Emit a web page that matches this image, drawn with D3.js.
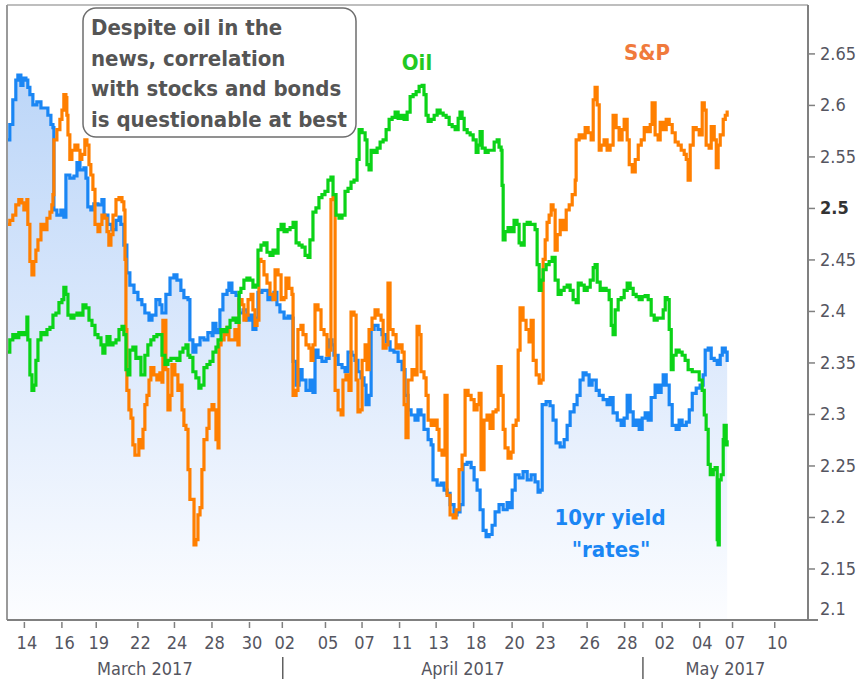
<!DOCTYPE html>
<html><head><meta charset="utf-8">
<script src="https://cdn.jsdelivr.net/npm/d3@7"></script>
<style>
html,body{margin:0;padding:0;background:#fff;}
svg{display:block;}
text{font-family:"DejaVu Sans Condensed","DejaVu Sans",sans-serif;font-stretch:condensed;}
</style></head><body>
<svg id="chart" width="861" height="683"></svg>
<script>
// ---- DATA (x = trading-day index from Mar 14 2017, y = value on the yield axis) ----
const yTicks = [2.1, 2.15, 2.2, 2.25, 2.3, 2.35, 2.4, 2.45, 2.5, 2.55, 2.6, 2.65];
const yTickLabels = ["2.1","2.15","2.2","2.25","2.3","2.35","2.4","2.45","2.5","2.55","2.6","2.65"];
const xTickDays = [0, 2, 3.83, 6.05, 8, 10, 12, 13.75, 16.05, 18, 20, 21.95, 23.95, 26, 27.65, 30, 32, 34, 36, 37.75, 40];
const xTickLabels = ["14","16","19","22","24","28","30","02","05","07","11","13","18","20","23","26","28","02","04","07","10"];
const monthNames = ["March 2017", "April 2017", "May 2017"];
const monthStarts = [-0.9, 13.8, 33.0];
const monthEnds = [13.8, 33.0, 41.8];

const rateT = [-0.85,-0.75,-0.59,-0.43,-0.32,-0.16,-0.05,0.11,0.21,0.32,0.48,0.69,0.91,1.12,1.28,1.44,1.55,1.60,1.76,1.97,2.13,2.24,2.45,2.67,2.83,2.99,3.20,3.31,3.41,3.57,3.73,3.95,4.16,4.27,4.48,4.69,4.91,5.07,5.17,5.33,5.49,5.65,5.87,6.08,6.29,6.45,6.67,6.83,7.04,7.25,7.36,7.57,7.79,8.00,8.16,8.37,8.53,8.75,8.85,9.01,9.17,9.39,9.60,9.81,10.03,10.08,10.24,10.40,10.45,10.61,10.83,10.93,11.09,11.31,11.47,11.68,11.89,12.05,12.21,12.37,12.48,12.69,12.85,13.01,13.17,13.33,13.49,13.65,13.87,14.08,14.24,14.35,14.51,14.67,14.83,15.04,15.25,15.41,15.52,15.68,15.89,16.11,16.27,16.43,16.53,16.75,16.96,17.12,17.28,17.49,17.65,17.81,17.97,18.13,18.24,18.40,18.51,18.67,18.88,19.09,19.31,19.52,19.73,19.95,20.16,20.32,20.48,20.64,20.85,21.01,21.17,21.33,21.55,21.71,21.81,22.03,22.24,22.40,22.56,22.72,22.93,23.09,23.25,23.41,23.63,23.84,24.00,24.16,24.32,24.48,24.64,24.80,24.96,25.12,25.33,25.55,25.76,25.92,26.03,26.19,26.40,26.61,26.83,27.04,27.25,27.41,27.52,27.63,27.84,28.05,28.21,28.37,28.59,28.80,28.96,29.12,29.33,29.49,29.65,29.81,29.97,30.13,30.29,30.51,30.67,30.88,31.09,31.25,31.41,31.63,31.84,32.00,32.16,32.32,32.48,32.64,32.80,32.96,33.12,33.28,33.44,33.65,33.81,33.97,34.08,34.24,34.40,34.56,34.77,34.93,35.09,35.31,35.47,35.63,35.84,36.05,36.21,36.32,36.48,36.64,36.80,36.96,37.12,37.23,37.39,37.49];
const rateV = [2.566,2.581,2.605,2.624,2.629,2.619,2.626,2.624,2.617,2.610,2.600,2.603,2.597,2.597,2.590,2.581,2.578,2.498,2.493,2.498,2.491,2.532,2.529,2.531,2.544,2.537,2.539,2.529,2.501,2.498,2.504,2.503,2.508,2.493,2.484,2.479,2.488,2.491,2.484,2.464,2.437,2.425,2.418,2.411,2.406,2.398,2.391,2.396,2.411,2.406,2.398,2.416,2.432,2.435,2.430,2.420,2.413,2.411,2.372,2.360,2.367,2.374,2.372,2.379,2.376,2.388,2.379,2.382,2.401,2.416,2.420,2.427,2.418,2.415,2.398,2.401,2.391,2.396,2.382,2.393,2.418,2.420,2.420,2.411,2.416,2.418,2.406,2.399,2.393,2.395,2.393,2.351,2.328,2.343,2.333,2.323,2.333,2.321,2.362,2.355,2.351,2.354,2.372,2.367,2.357,2.348,2.345,2.341,2.360,2.357,2.352,2.341,2.335,2.328,2.309,2.318,2.382,2.386,2.382,2.377,2.370,2.362,2.360,2.351,2.343,2.318,2.304,2.299,2.294,2.304,2.299,2.285,2.275,2.270,2.236,2.231,2.233,2.226,2.223,2.212,2.202,2.205,2.212,2.251,2.253,2.248,2.236,2.226,2.207,2.187,2.181,2.183,2.192,2.205,2.212,2.207,2.214,2.209,2.226,2.241,2.238,2.244,2.236,2.241,2.234,2.224,2.226,2.309,2.312,2.308,2.294,2.272,2.268,2.275,2.289,2.302,2.309,2.318,2.333,2.340,2.338,2.328,2.333,2.323,2.318,2.314,2.309,2.316,2.301,2.294,2.289,2.296,2.318,2.302,2.289,2.294,2.285,2.296,2.301,2.294,2.316,2.328,2.321,2.328,2.338,2.328,2.309,2.289,2.285,2.294,2.289,2.292,2.304,2.320,2.325,2.328,2.338,2.362,2.364,2.354,2.352,2.348,2.357,2.364,2.360,2.352];

const spxT = [-0.85,-0.75,-0.59,-0.43,-0.27,-0.11,0.00,0.11,0.16,0.21,0.32,0.43,0.53,0.64,0.75,0.91,1.07,1.23,1.39,1.49,1.55,1.60,1.76,1.92,2.03,2.13,2.24,2.29,2.35,2.45,2.56,2.72,2.88,2.99,3.09,3.25,3.36,3.47,3.57,3.68,3.79,3.95,4.05,4.16,4.32,4.43,4.53,4.64,4.75,4.91,5.07,5.23,5.33,5.39,5.44,5.49,5.60,5.71,5.81,5.92,6.03,6.13,6.24,6.35,6.45,6.56,6.67,6.77,6.93,7.09,7.25,7.36,7.41,7.52,7.57,7.68,7.79,7.89,8.05,8.21,8.32,8.43,8.53,8.64,8.75,8.85,8.96,9.07,9.17,9.28,9.39,9.49,9.60,9.76,9.87,10.03,10.13,10.24,10.35,10.40,10.51,10.67,10.83,10.93,11.09,11.25,11.41,11.47,11.63,11.73,11.84,11.95,12.11,12.21,12.32,12.43,12.53,12.64,12.80,12.96,13.12,13.28,13.39,13.55,13.71,13.87,13.97,14.13,14.29,14.35,14.51,14.61,14.77,14.88,15.04,15.20,15.31,15.41,15.52,15.68,15.84,16.00,16.16,16.27,16.37,16.48,16.59,16.75,16.91,17.01,17.17,17.33,17.44,17.60,17.71,17.81,17.92,18.03,18.19,18.29,18.40,18.56,18.72,18.88,19.04,19.15,19.31,19.41,19.52,19.68,19.84,20.00,20.16,20.27,20.37,20.48,20.69,20.85,20.96,21.07,21.17,21.33,21.44,21.55,21.71,21.87,22.03,22.13,22.29,22.45,22.56,22.72,22.88,23.04,23.20,23.36,23.52,23.68,23.84,24.00,24.16,24.27,24.37,24.53,24.69,24.85,25.01,25.17,25.28,25.44,25.55,25.65,25.81,25.97,26.08,26.24,26.35,26.45,26.61,26.77,26.93,27.04,27.15,27.31,27.47,27.57,27.68,27.79,27.89,28.00,28.11,28.21,28.32,28.43,28.59,28.75,28.91,29.07,29.23,29.39,29.44,29.60,29.76,29.92,30.08,30.24,30.35,30.45,30.56,30.67,30.77,30.93,31.09,31.25,31.41,31.57,31.73,31.89,32.00,32.16,32.27,32.43,32.59,32.75,32.91,33.07,33.23,33.39,33.49,33.65,33.81,33.92,34.08,34.24,34.40,34.56,34.72,34.88,35.04,35.20,35.31,35.41,35.52,35.68,35.84,36.00,36.16,36.27,36.37,36.53,36.64,36.80,36.91,37.01,37.12,37.28,37.39,37.49];
const spxV = [2.484,2.488,2.493,2.503,2.508,2.505,2.498,2.503,2.508,2.484,2.448,2.435,2.448,2.459,2.469,2.484,2.479,2.490,2.496,2.503,2.513,2.566,2.576,2.586,2.595,2.610,2.607,2.590,2.571,2.547,2.556,2.561,2.556,2.547,2.552,2.566,2.561,2.542,2.532,2.518,2.484,2.477,2.484,2.493,2.490,2.477,2.464,2.474,2.493,2.508,2.510,2.506,2.498,2.450,2.382,2.323,2.304,2.296,2.270,2.260,2.260,2.275,2.267,2.285,2.309,2.318,2.333,2.345,2.338,2.333,2.340,2.331,2.391,2.391,2.343,2.304,2.318,2.348,2.338,2.323,2.328,2.304,2.289,2.285,2.246,2.217,2.217,2.173,2.178,2.202,2.209,2.246,2.275,2.286,2.304,2.309,2.304,2.275,2.267,2.367,2.372,2.377,2.384,2.372,2.372,2.382,2.367,2.411,2.406,2.391,2.396,2.411,2.416,2.401,2.386,2.391,2.450,2.448,2.435,2.427,2.416,2.411,2.440,2.435,2.411,2.413,2.432,2.422,2.416,2.318,2.323,2.382,2.386,2.377,2.367,2.364,2.352,2.367,2.406,2.401,2.382,2.377,2.357,2.362,2.508,2.510,2.323,2.304,2.299,2.333,2.338,2.323,2.399,2.396,2.333,2.302,2.304,2.352,2.367,2.343,2.382,2.393,2.401,2.396,2.391,2.364,2.367,2.427,2.382,2.377,2.364,2.367,2.360,2.309,2.277,2.333,2.343,2.338,2.385,2.377,2.341,2.335,2.318,2.294,2.289,2.294,2.285,2.265,2.260,2.318,2.221,2.202,2.199,2.207,2.246,2.260,2.323,2.318,2.314,2.304,2.309,2.320,2.246,2.294,2.299,2.286,2.302,2.304,2.346,2.318,2.285,2.267,2.257,2.263,2.289,2.294,2.362,2.403,2.391,2.382,2.370,2.391,2.352,2.338,2.330,2.333,2.450,2.469,2.486,2.493,2.503,2.498,2.459,2.474,2.488,2.479,2.498,2.503,2.513,2.527,2.566,2.571,2.568,2.578,2.573,2.566,2.605,2.617,2.600,2.556,2.561,2.566,2.556,2.561,2.590,2.578,2.566,2.576,2.586,2.566,2.542,2.535,2.547,2.561,2.566,2.578,2.574,2.581,2.602,2.571,2.566,2.583,2.576,2.586,2.581,2.573,2.564,2.561,2.556,2.552,2.547,2.527,2.561,2.578,2.576,2.571,2.602,2.595,2.561,2.558,2.579,2.566,2.539,2.561,2.571,2.586,2.590,2.593];

const oilT = [-0.85,-0.75,-0.59,-0.43,-0.27,-0.11,0.05,0.16,0.21,0.32,0.43,0.53,0.64,0.75,0.91,1.07,1.23,1.39,1.55,1.71,1.87,2.03,2.13,2.24,2.35,2.51,2.67,2.83,2.99,3.15,3.31,3.47,3.63,3.79,3.95,4.11,4.21,4.32,4.43,4.59,4.75,4.91,5.07,5.23,5.33,5.44,5.55,5.65,5.81,5.97,6.13,6.24,6.35,6.45,6.61,6.77,6.93,7.09,7.25,7.36,7.52,7.68,7.84,8.00,8.16,8.32,8.48,8.64,8.75,8.85,9.01,9.17,9.33,9.44,9.60,9.76,9.92,10.08,10.24,10.35,10.51,10.67,10.83,10.99,11.15,11.31,11.47,11.57,11.73,11.89,12.05,12.21,12.37,12.48,12.64,12.80,12.96,13.12,13.28,13.44,13.55,13.71,13.87,14.03,14.19,14.35,14.51,14.67,14.83,14.99,15.15,15.25,15.41,15.57,15.73,15.89,16.05,16.21,16.37,16.48,16.64,16.80,16.96,17.12,17.28,17.44,17.60,17.76,17.87,18.03,18.19,18.29,18.40,18.51,18.67,18.83,18.99,19.15,19.31,19.47,19.63,19.79,19.95,20.11,20.27,20.43,20.59,20.75,20.91,21.07,21.23,21.33,21.44,21.55,21.71,21.87,22.03,22.19,22.35,22.51,22.67,22.83,22.99,23.15,23.25,23.36,23.47,23.63,23.79,23.95,24.11,24.21,24.32,24.43,24.59,24.75,24.91,25.07,25.23,25.33,25.44,25.49,25.55,25.65,25.81,25.97,26.13,26.29,26.40,26.51,26.67,26.83,26.99,27.15,27.25,27.36,27.47,27.57,27.68,27.84,28.00,28.16,28.32,28.48,28.64,28.80,28.96,29.12,29.28,29.44,29.55,29.71,29.87,30.03,30.19,30.35,30.45,30.56,30.72,30.88,31.04,31.20,31.31,31.41,31.52,31.68,31.84,32.00,32.16,32.32,32.48,32.64,32.80,32.96,33.12,33.28,33.44,33.60,33.76,33.92,34.08,34.19,34.29,34.40,34.51,34.61,34.77,34.93,35.09,35.25,35.41,35.63,35.84,36.00,36.16,36.27,36.37,36.48,36.59,36.75,36.85,36.96,37.01,37.07,37.17,37.28,37.33,37.44,37.49];
const oilV = [2.360,2.372,2.377,2.374,2.379,2.377,2.379,2.394,2.372,2.338,2.323,2.328,2.352,2.372,2.379,2.377,2.382,2.384,2.396,2.398,2.408,2.411,2.423,2.416,2.396,2.393,2.396,2.398,2.396,2.406,2.403,2.391,2.386,2.377,2.374,2.367,2.359,2.367,2.375,2.367,2.369,2.372,2.382,2.385,2.377,2.343,2.338,2.362,2.365,2.354,2.355,2.338,2.338,2.357,2.367,2.372,2.375,2.377,2.377,2.357,2.348,2.352,2.354,2.354,2.352,2.360,2.364,2.367,2.357,2.355,2.341,2.335,2.325,2.328,2.345,2.348,2.351,2.360,2.365,2.372,2.382,2.380,2.384,2.391,2.393,2.389,2.418,2.422,2.430,2.432,2.430,2.423,2.425,2.459,2.464,2.466,2.457,2.454,2.459,2.456,2.479,2.484,2.477,2.479,2.481,2.486,2.466,2.464,2.462,2.454,2.452,2.469,2.496,2.500,2.510,2.513,2.516,2.527,2.530,2.513,2.493,2.490,2.493,2.516,2.519,2.525,2.527,2.547,2.576,2.573,2.566,2.542,2.537,2.556,2.554,2.558,2.564,2.566,2.576,2.586,2.588,2.593,2.587,2.590,2.586,2.593,2.608,2.610,2.613,2.618,2.619,2.610,2.590,2.584,2.586,2.590,2.595,2.592,2.590,2.588,2.581,2.579,2.576,2.587,2.593,2.587,2.576,2.573,2.571,2.566,2.554,2.561,2.574,2.558,2.554,2.556,2.556,2.564,2.566,2.559,2.556,2.522,2.469,2.477,2.481,2.477,2.488,2.484,2.466,2.464,2.484,2.486,2.484,2.484,2.479,2.445,2.420,2.430,2.440,2.445,2.448,2.452,2.430,2.416,2.420,2.423,2.425,2.420,2.411,2.408,2.427,2.425,2.420,2.423,2.430,2.442,2.445,2.428,2.420,2.422,2.420,2.411,2.386,2.377,2.401,2.411,2.413,2.420,2.427,2.422,2.416,2.414,2.411,2.414,2.415,2.411,2.396,2.391,2.393,2.393,2.401,2.413,2.411,2.382,2.343,2.357,2.362,2.360,2.357,2.352,2.343,2.341,2.341,2.333,2.323,2.299,2.285,2.251,2.241,2.246,2.248,2.178,2.173,2.236,2.241,2.275,2.289,2.270,2.273];

// ---- CHART ----
const svg = d3.select("#chart");
const plot = {left: 7, right: 808, top: 5, bottom: 620};

const x = d3.scaleLinear().domain([-0.9, 41.8]).range([plot.left, plot.right]);
const y = d3.scaleLinear().domain([2.1, 2.697]).range([plot.bottom, plot.top]);

const rate = rateT.map((t, i) => ({t, v: rateV[i]}));
const spx = spxT.map((t, i) => ({t, v: spxV[i]}));
const oil = oilT.map((t, i) => ({t, v: oilV[i]}));

const defs = svg.append("defs");
const grad = defs.append("linearGradient").attr("id", "rateFill")
  .attr("gradientUnits", "userSpaceOnUse")
  .attr("x1", 0).attr("x2", 0).attr("y1", y(2.63)).attr("y2", y(2.1));
grad.append("stop").attr("offset", "0").attr("stop-color", "#bcd6f8");
grad.append("stop").attr("offset", "0.5").attr("stop-color", "#dce9fc");
grad.append("stop").attr("offset", "1").attr("stop-color", "#fcfdff");

defs.append("clipPath").attr("id", "plotClip").append("rect")
  .attr("x", plot.left).attr("y", plot.top)
  .attr("width", plot.right - plot.left).attr("height", plot.bottom - plot.top);

const g = svg.append("g").attr("clip-path", "url(#plotClip)");

const curve = d3.curveStepAfter;
const area = d3.area().curve(curve).x(d => x(d.t)).y0(y(2.1)).y1(d => y(d.v));
const line = d3.line().curve(curve).x(d => x(d.t)).y(d => y(d.v));

g.append("path").datum(rate).attr("d", area).attr("fill", "url(#rateFill)");
const lineStyle = sel => sel.attr("fill", "none").attr("stroke-width", 3.2)
  .attr("stroke-linejoin", "miter").attr("stroke-linecap", "square");
g.append("path").datum(rate).attr("d", line).attr("stroke", "#1a86f4").call(lineStyle);
g.append("path").datum(spx).attr("d", line).attr("stroke", "#ff7f00").call(lineStyle);
g.append("path").datum(oil).attr("d", line).attr("stroke", "#0bd317").call(lineStyle);

// frame
svg.append("line").attr("x1", plot.left).attr("x2", plot.right).attr("y1", plot.top).attr("y2", plot.top)
  .attr("stroke", "#a8a8a8").attr("stroke-width", 1.5);
svg.append("line").attr("x1", plot.left).attr("x2", plot.left).attr("y1", plot.top).attr("y2", plot.bottom)
  .attr("stroke", "#9a9a9a").attr("stroke-width", 2);

// right axis
const yAxis = d3.axisRight(y).tickValues(yTicks).tickSize(7).tickPadding(5)
  .tickFormat((d, i) => yTickLabels[i]);
const ya = svg.append("g").attr("transform", `translate(${plot.right},0)`).call(yAxis);
ya.select(".domain").remove();
ya.selectAll(".tick line").attr("stroke", "#808080").attr("stroke-width", 1.5)
  .filter(d => d === 2.1).remove();
ya.selectAll(".tick text").attr("font-size", 18)
  .style("font-family", '"DejaVu Sans Condensed","DejaVu Sans",sans-serif')
  .attr("font-weight", d => d === 2.5 ? "bold" : "normal")
  .attr("fill", d => d === 2.5 ? "#333" : "#555560")
  .attr("y", d => d === 2.1 ? -11 : 0);
svg.append("line").attr("x1", plot.right).attr("x2", plot.right).attr("y1", plot.top).attr("y2", plot.bottom)
  .attr("stroke", "#808080").attr("stroke-width", 2);

// bottom axis
const xAxis = d3.axisBottom(x).tickValues(xTickDays).tickSize(6).tickPadding(8)
  .tickFormat((d, i) => xTickLabels[i]);
const xa = svg.append("g").attr("transform", `translate(0,${plot.bottom + 2})`).call(xAxis);
xa.select(".domain").remove();
xa.selectAll(".tick line").attr("stroke", "#808080").attr("stroke-width", 1.5);
xa.selectAll(".tick text").attr("fill", "#555560").attr("font-size", 18).attr("dx", 2.5)
  .style("font-family", '"DejaVu Sans Condensed","DejaVu Sans",sans-serif');
svg.append("line").attr("x1", plot.left).attr("x2", plot.right + 10).attr("y1", plot.bottom).attr("y2", plot.bottom)
  .attr("stroke", "#808080").attr("stroke-width", 2);

// month tick on the day row (May 1) and month separators
svg.append("line").attr("x1", x(monthStarts[2])).attr("x2", x(monthStarts[2]))
  .attr("y1", plot.bottom + 2).attr("y2", plot.bottom + 8).attr("stroke", "#808080").attr("stroke-width", 1.5);
svg.selectAll(".msep").data(monthStarts.slice(1)).enter().append("line")
  .attr("x1", d => x(d)).attr("x2", d => x(d)).attr("y1", 657).attr("y2", 679)
  .attr("stroke", "#606060").attr("stroke-width", 1.5);
svg.selectAll(".mlab").data(monthNames).enter().append("text")
  .attr("x", (d, i) => x((monthStarts[i] + monthEnds[i]) / 2))
  .attr("y", 675).attr("text-anchor", "middle").attr("font-size", 18).attr("fill", "#555560")
  .text(d => d);

// annotation box
const box = svg.append("g");
box.append("rect").attr("x", 83).attr("y", 8).attr("width", 273).attr("height", 129).attr("rx", 13)
  .attr("fill", "#fff").attr("stroke", "#6e6e6e").attr("stroke-width", 1.5);
const noteLines = ["Despite oil in the", "news, correlation", "with stocks and bonds", "is questionable at best"];
box.selectAll("text").data(noteLines).enter().append("text")
  .attr("x", 91).attr("y", (d, i) => 35 + i * 30.5)
  .attr("font-size", 22).attr("font-weight", "bold").attr("fill", "#555").text(d => d);

// series labels
svg.append("text").attr("x", 417).attr("y", 70).attr("text-anchor", "middle")
  .attr("font-size", 22).attr("font-weight", "bold").attr("fill", "#22c922").text("Oil");
svg.append("text").attr("x", 647).attr("y", 60).attr("text-anchor", "middle")
  .attr("font-size", 22).attr("font-weight", "bold").attr("fill", "#f07a3c").text("S&P");
svg.append("text").attr("x", 610).attr("y", 525).attr("text-anchor", "middle")
  .attr("font-size", 22).attr("font-weight", "bold").attr("fill", "#1a86f4").text("10yr yield");
svg.append("text").attr("x", 611).attr("y", 557).attr("text-anchor", "middle")
  .attr("font-size", 22).attr("font-weight", "bold").attr("fill", "#1a86f4").text("\"rates\"");
</script>
</body></html>
